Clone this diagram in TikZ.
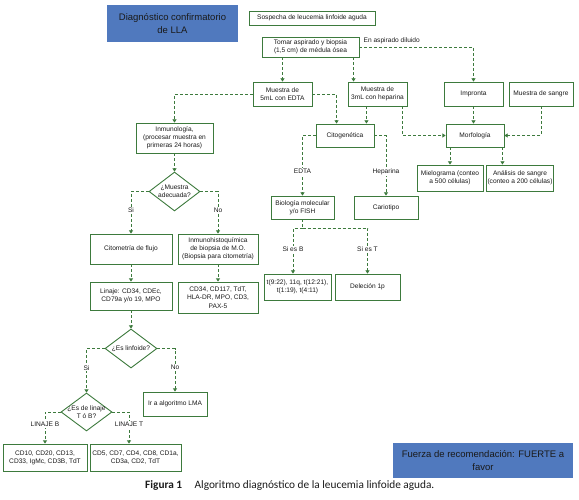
\documentclass[tikz,border=0pt]{standalone}
\usepackage{fontspec}
\setmainfont{Liberation Sans}
\newfontfamily\capfont{Carlito}
\usetikzlibrary{arrows.meta,positioning,calc,shapes.geometric}
\definecolor{cGrn}{HTML}{3D7A3D}
\definecolor{cBlu}{HTML}{5079BE}
\definecolor{cInk}{HTML}{1A1A1A}
\tikzset{
  blk/.style ={draw=cGrn,line width=0.9pt,fill=white,align=center,inner sep=0.8pt,
               text=cInk,font=\fontsize{6.6}{8.2}\selectfont},
  dec/.style ={draw=cGrn,line width=0.9pt,fill=white,shape=diamond,inner sep=0pt},
  dtxt/.style={align=center,inner sep=0pt,text=cInk,font=\fontsize{6.6}{8.2}\selectfont},
  note/.style={fill=cBlu,align=center,text=cInk,font=\fontsize{9.5}{12.5}\selectfont},
  sig/.style ={-{Triangle[length=3.2pt,width=4pt]},draw=cGrn,line width=0.9pt,
               dash pattern=on 3pt off 2pt},
  tag/.style ={font=\fontsize{6.6}{8}\selectfont,text=cInk,fill=white,inner sep=1pt},
}

\begin{document}
\begin{tikzpicture}[x=1pt, y=-1pt]
\useasboundingbox (0,0) rectangle (579,500);

\node[note,minimum width=131pt,minimum height=37pt] (diag) at (172.5,23.5)
  {Diagnóstico confirmatorio\\de LLA};

\node[blk,minimum width=126pt,minimum height=14pt] (sosp) at (312,18)
  {Sospecha de leucemia linfoide aguda};
\node[blk,minimum width=97pt,minimum height=20pt] (tomar) at (310.5,47)
  {Tomar aspirado y biopsia\\(1,5 cm) de médula ósea};

% samples
\node[blk,minimum width=59pt,minimum height=24pt] (edta)   at (282.5,94) {Muestra de\\5mL con EDTA};
\node[blk,minimum width=59pt,minimum height=24pt] (hep)    at (377.5,94) {Muestra de\\3mL con heparina};
\node[blk,minimum width=59pt,minimum height=24pt] (impr)   at (473.5,94) {Impronta};
\node[blk,minimum width=64pt,minimum height=24pt] (sangre) at (541,94)   {Muestra de sangre};

\node[blk,minimum width=77pt,minimum height=30pt] (inmuno) at (174.5,138)
  {Inmunología,\\(procesar muestra en\\primeras 24 horas)};
\node[blk,minimum width=58pt,minimum height=23pt] (cito)  at (345,135.5) {Citogenética};
\node[blk,minimum width=58pt,minimum height=23pt] (morfo) at (475,135.5) {Morfología};

\node[blk,minimum width=66pt,minimum height=26pt] (mielo) at (450,178)
  {Mielograma (conteo\\a 500 células)};
\node[blk,minimum width=66pt,minimum height=26pt] (anal)  at (520,178)
  {Análisis de sangre\\(conteo a 200 células)};

\node[blk,minimum width=63pt,minimum height=23pt] (biol)  at (302.5,207.5) {Biología molecular\\y/o FISH};
\node[blk,minimum width=64pt,minimum height=23pt] (cario) at (386,207.5)   {Cariotipo};
\node[blk,minimum width=67pt,minimum height=26pt] (tbox)  at (297.5,287)
  {t(9:22), 11q, t(12:21),\\t(1:19), t(4:11)};
\node[blk,minimum width=65pt,minimum height=26pt] (delec) at (367.5,287) {Deleción 1p};

% immunology branch
\node[dec,minimum width=51pt,minimum height=39pt,
      label={[dtxt]center:{¿Muestra\\adecuada?}}] (dmues) at (174.5,191.5) {};
\node[blk,minimum width=82pt,minimum height=30pt] (citom) at (131,249) {Citometría de flujo};
\node[blk,minimum width=80pt,minimum height=30pt] (ihq)   at (218,249)
  {Inmunohistoquímica\\de biopsia de M.O.\\(Biopsia para citometría)};
\node[blk,minimum width=82pt,minimum height=28pt] (linaje) at (131,296)
  {Linaje: CD34, CDEc,\\CD79a y/o 19, MPO};
\node[blk,minimum width=80pt,minimum height=31pt] (cd34) at (218,297.5)
  {CD34, CD117, TdT,\\HLA-DR, MPO, CD3,\\PAX-5};

\node[dec,minimum width=52pt,minimum height=39pt,
      label={[dtxt]center:{¿Es linfoide?}}] (dlinf) at (131,348.5) {};
\node[blk,minimum width=64pt,minimum height=24pt] (lma) at (175,404) {Ir a algoritmo LMA};
\node[dec,minimum width=51pt,minimum height=38pt,
      label={[dtxt]center:{¿Es de linaje\\T ó B?}}] (dlin) at (86.5,412) {};
\node[blk,minimum width=84pt,minimum height=27pt] (cdb) at (45,457.5)
  {CD10, CD20, CD13,\\CD33, IgMc, CD3B, TdT};
\node[blk,minimum width=91pt,minimum height=27pt] (cdt) at (135.5,457.5)
  {CD5, CD7, CD4, CD8, CD1a,\\CD3a, CD2, TdT};

\node[note,minimum width=180pt,minimum height=35pt] (fuerza) at (483,460.5)
  {Fuerza de recomendación: FUERTE a\\favor};
\node[anchor=west,inner sep=0pt,text=cInk,font=\capfont\fontsize{11.3}{13.5}\selectfont] (cap) at (145,486)
  {\textbf{Figura 1}\hspace{1.1em}Algoritmo diagnóstico de la leucemia linfoide aguda.};

% connectors, top part
\draw[sig] (tomar.south -| edta.north) -- (edta.north);
\coordinate (hepin) at ($(hep.north west)+(6,0)$);
\draw[sig] (tomar.south -| hepin) -- (hepin);
\draw[sig] (tomar.east) -| (impr.north);
\node[tag,fill=none,anchor=south west] (ldil) at ($(tomar.east)+(3,-1.5)$) {En aspirado diluido};

\draw[sig] (edta.west) -| (inmuno.north);
\coordinate (citin) at ($(cito.north west)+(21,0)$);
\draw[sig] (edta.east) -| (citin);
\coordinate (citin2) at ($(cito.north east)+(-8,0)$);
\draw[sig] (hep.south -| citin2) -- (citin2);
\draw[sig] ($(hep.south east)+(-5,0)$) |- (morfo.west);
\draw[sig] (impr.south) -- (impr.south |- morfo.north);
\draw[sig] (sangre.south) |- (morfo.east);
\draw[sig] (morfo.south -| mielo.north) -- (mielo.north);
\coordinate (anin) at ($(morfo.south east)+(-2,0)$);
\draw[sig] (anin) -- (anin |- anal.north);

% cytogenetics
\draw[sig] (cito.west) -| node[tag,pos=0.8]{EDTA} (biol.north);
\draw[sig] (cito.east) -| node[tag,pos=0.8]{Heparina} (cario.north);
\coordinate (bj) at ($(biol.south)+(0,9)$);
\draw[sig,-] (biol.south) -- (bj);
\coordinate (tin) at ($(tbox.north)+(-4.5,0)$);
\draw[sig] (bj) -| node[tag,pos=0.73]{Si es B} (tin);
\draw[sig] (bj) -| node[tag,pos=0.73]{Si es T} (delec.north);

% immunology
\draw[sig] (inmuno.south) -- (dmues.north);
\draw[sig] (dmues.west) -| node[tag,pos=0.72]{Si} (citom.north);
\draw[sig] (dmues.east) -| node[tag,pos=0.72]{No} (ihq.north);
\draw[sig] (citom.south) -- (linaje.north);
\draw[sig] (ihq.south) -- (cd34.north);
\draw[sig] (linaje.south) -- (dlinf.north);
\draw[sig] (dlinf.west) -| node[tag,pos=0.72]{Si} (dlin.north);
\draw[sig] (dlinf.east) -| node[tag,pos=0.72]{No} (lma.north);
\draw[sig] (dlin.west) -| node[tag,pos=0.7]{LINAJE B} (cdb.north);
\coordinate (cdtin) at ($(cdt.north)+(-6.5,0)$);
\draw[sig] (dlin.east) -| node[tag,pos=0.7]{LINAJE T} (cdtin);
\end{tikzpicture}
\end{document}
